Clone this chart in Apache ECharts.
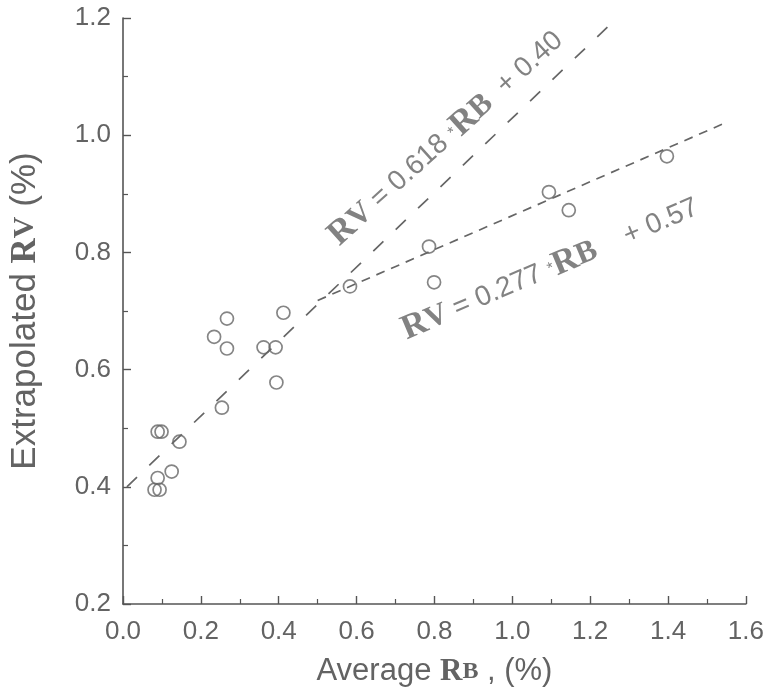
<!DOCTYPE html>
<html>
<head>
<meta charset="utf-8">
<script src="https://cdn.jsdelivr.net/npm/echarts@6/dist/echarts.min.js"></script>
<style>
html,body{margin:0;padding:0;background:#fff;}
#chart{width:767px;height:696px;}
</style>
</head>
<body>
<div id="chart"></div>
<script>
// ---- data ----
const rbValues = [0.081, 0.094, 0.089, 0.125, 0.089, 0.099, 0.145, 0.234, 0.267, 0.267, 0.254,
                  0.361, 0.392, 0.394, 0.412, 0.583, 0.786, 0.799, 1.094, 1.145, 1.397];
const rvValues = [0.395, 0.395, 0.415, 0.426, 0.494, 0.494, 0.477, 0.656, 0.687, 0.636, 0.535,
                  0.638, 0.638, 0.578, 0.697, 0.742, 0.810, 0.749, 0.903, 0.872, 0.964];
// fitted lines (end points as drawn)
const steepLineX = [0.01, 1.245];
const steepLineY = [0.40, 1.185];
const shallowLineX = [0.50, 1.54];
const shallowLineY = [0.718, 1.019];
// axis ticks
const xTicks = [0.0, 0.2, 0.4, 0.6, 0.8, 1.0, 1.2, 1.4, 1.6];
const yTicks = [0.2, 0.4, 0.6, 0.8, 1.0, 1.2];
// equation texts
const eqSteep = ['RV', ' = 0.618 ', '*', ' RB', '  + 0.40'];
const eqShallow = ['RV', ' = 0.277 ', '*', 'RB', '    + 0.57'];

const GREY = '#636363';
const SANS = '"Liberation Sans", Arial, Helvetica, sans-serif';
const SERIF = '"Liberation Serif", "Times New Roman", serif';

const pts = rbValues.map((x, i) => [x, rvValues[i]]);
const steep = steepLineX.map((x, i) => [x, steepLineY[i]]);
const shallow = shallowLineX.map((x, i) => [x, shallowLineY[i]]);

const richEq = {
  R: {fontFamily: SERIF, fontWeight: 'bold', fontSize: 35, color: GREY},
  V: {fontFamily: SERIF, fontWeight: 'bold', fontSize: 31, color: GREY},
  s: {fontFamily: SANS, fontSize: 28, color: GREY},
  m: {fontFamily: SANS, fontSize: 16, color: GREY}
};
function eqText(p) {
  return '{R|R}{V|' + p[0].slice(1) + '}{s|' + p[1] + '}{m|' + p[2] + '}{R|' + p[3].trim().slice(0,1) + '}{V|' + p[3].trim().slice(1) + '}{s|' + p[4] + '}';
}

const axisCommon = {
  axisLine: {show: true, lineStyle: {color: '#555', width: 1.6}},
  axisTick: {show: true, inside: true, length: 8, lineStyle: {color: '#555', width: 1.4}},
  minorTick: {show: true, splitNumber: 2, length: 5, lineStyle: {color: '#555', width: 1.2}},
  splitLine: {show: false},
  minorSplitLine: {show: false}
};

const chart = echarts.init(document.getElementById('chart'), null, {renderer: 'canvas'});
chart.setOption({
  animation: false,
  backgroundColor: '#ffffff',
  grid: {left: 123, right: 15, top: 18, bottom: 92, containLabel: false},
  xAxis: Object.assign({
    type: 'value',
    min: xTicks[0], max: xTicks[xTicks.length - 1], interval: 0.2,
    axisLabel: {fontFamily: SANS, fontSize: 26, color: GREY, margin: 15,
      formatter: v => v.toFixed(1)},
    name: '{s|Average }{R|R}{b|B}{s| , (%)}',
    nameLocation: 'middle', nameGap: 52,
    nameTextStyle: {rich: {
      s: {fontFamily: SANS, fontSize: 31, color: GREY},
      R: {fontFamily: SERIF, fontWeight: 'bold', fontSize: 31, color: GREY},
      b: {fontFamily: SERIF, fontWeight: 'bold', fontSize: 24, color: GREY}
    }}
  }, axisCommon),
  yAxis: Object.assign({
    type: 'value',
    min: yTicks[0], max: yTicks[yTicks.length - 1], interval: 0.2,
    axisLabel: {fontFamily: SANS, fontSize: 26, color: GREY, margin: 12,
      formatter: v => v.toFixed(1)},
    name: '{s|Extrapolated }{R|R}{v|V}{s| (%)}',
    nameLocation: 'middle', nameGap: 80,
    nameTextStyle: {rich: {
      s: {fontFamily: SANS, fontSize: 35, color: GREY},
      R: {fontFamily: SERIF, fontWeight: 'bold', fontSize: 35, color: GREY},
      v: {fontFamily: SERIF, fontWeight: 'bold', fontSize: 30, color: GREY}
    }}
  }, axisCommon),
  series: [
    {
      type: 'line', data: steep, showSymbol: false, symbol: 'none', silent: true,
      lineStyle: {color: '#666', width: 1.7, type: [14, 17]}
    },
    {
      type: 'line', data: shallow, showSymbol: false, symbol: 'none', silent: true,
      lineStyle: {color: '#666', width: 1.7, type: [9, 7]}
    },
    {
      type: 'scatter', data: pts, symbol: 'circle', symbolSize: 13, silent: true,
      itemStyle: {color: 'rgba(0,0,0,0)', borderColor: '#666', borderWidth: 1.7}
    },
    {
      type: 'scatter', data: [[0.830, 0.995]], symbolSize: 0, silent: true,
      label: {show: true, position: 'inside', rotate: 42, align: 'center', verticalAlign: 'middle',
        formatter: eqText(eqSteep), rich: richEq}
    },
    {
      type: 'scatter', data: [[1.097, 0.772]], symbolSize: 0, silent: true,
      label: {show: true, position: 'inside', rotate: 23, align: 'center', verticalAlign: 'middle',
        formatter: eqText(eqShallow), rich: richEq}
    }
  ]
});
</script>
</body>
</html>
